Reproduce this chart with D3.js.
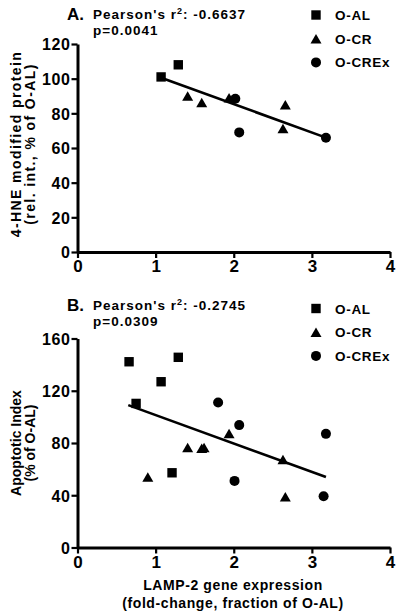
<!DOCTYPE html>
<html><head><meta charset="utf-8">
<script src="https://cdn.jsdelivr.net/npm/d3@7"></script>
<style>
html,body{margin:0;padding:0;background:#fff;}
svg{display:block;font-family:"Liberation Sans",Arial,Helvetica,sans-serif;font-weight:bold;}
</style></head>
<body>
<script>
// ---------- data ----------
const groups = ["O-AL", "O-CR", "O-CREx"];
const xTicks = [0, 1, 2, 3, 4];
const yTicksA = [0, 20, 40, 60, 80, 100, 120];
const yTicksB = [0, 40, 80, 120, 160];

// Panel A: 4-HNE modified protein vs LAMP-2
const aAL_x = [1.07, 1.29];
const aAL_y = [101, 108];
const aCR_x = [1.41, 1.59, 1.94, 2.63, 2.66];
const aCR_y = [90, 86.3, 89, 71.3, 85];
const aCREx_x = [2.02, 2.07, 3.18];
const aCREx_y = [88.4, 69, 65.9];
const aFit_x = [1.07, 3.18];
const aFit_y = [100.5, 66];

// Panel B: Apoptotic index vs LAMP-2
const bAL_x = [0.66, 1.29, 1.07, 0.75, 1.21];
const bAL_y = [142.2, 145.6, 126.9, 110.3, 57.2];
const bCR_x = [0.90, 1.41, 1.59, 1.62, 1.94, 2.63, 2.66];
const bCR_y = [54, 76.6, 75.9, 76.6, 87.3, 67.4, 38.8];
const bCREx_x = [1.80, 2.07, 2.01, 3.18, 3.15];
const bCREx_y = [111, 93.7, 51, 87, 39.3];
const bFit_x = [0.65, 3.18];
const bFit_y = [109, 54];

// ---------- drawing ----------
const W = 400, H = 616;
const svg = d3.select("body").append("svg").attr("width", W).attr("height", H);

function marker(g, shape, cx, cy) {
  if (shape === 0) {
    g.append("rect").attr("x", cx - 4.7).attr("y", cy - 4.7).attr("width", 9.4).attr("height", 9.4).attr("fill", "#000");
  } else if (shape === 1) {
    const h = 9.5, w = 11;
    g.append("path").attr("d", `M${cx},${cy - h/2}L${cx + w/2},${cy + h/2}L${cx - w/2},${cy + h/2}Z`).attr("fill", "#000");
  } else {
    g.append("circle").attr("cx", cx).attr("cy", cy).attr("r", 5).attr("fill", "#000");
  }
}

function panel(opt) {
  const g = svg.append("g");
  const x = d3.scaleLinear().domain([0, 4]).range([77.5, 390]);
  const y = d3.scaleLinear().domain([0, opt.ymax]).range([opt.y0, opt.y1]);

  // axes
  const ya = g.append("g").attr("transform", `translate(${x(0)},0)`)
    .call(d3.axisLeft(y).tickValues(opt.yticks).tickFormat(d3.format("d")).tickSize(6).tickSizeOuter(0).tickPadding(1));
  const xa = g.append("g").attr("transform", `translate(0,${y(0)})`)
    .call(d3.axisBottom(x).tickValues(xTicks).tickFormat(d3.format("d")).tickSize(6).tickSizeOuter(0).tickPadding(1.5));
  [ya, xa].forEach(a => {
    a.attr("font-size", null).attr("font-family", null);
    a.select(".domain").attr("stroke", "#000").attr("stroke-width", 3);
    a.selectAll(".tick line").attr("stroke", "#000").attr("stroke-width", 2.2);
    a.selectAll("text").attr("fill", "#000").attr("font-weight", "bold");
  });
  ya.selectAll("text").attr("font-size", 16).attr("letter-spacing", 0.6).attr("dy", "0.36em");
  xa.selectAll("text").attr("font-size", 17).attr("dy", "0.76em");

  // fit line
  const line = d3.line().x(d => x(d[0])).y(d => y(d[1]));
  g.append("path").datum(d3.zip(opt.fitx, opt.fity)).attr("d", line)
    .attr("fill", "none").attr("stroke", "#000").attr("stroke-width", 2.6);

  // points
  opt.series.forEach((s, i) => {
    d3.zip(s[0], s[1]).forEach(p => marker(g, i, x(p[0]), y(p[1])));
  });

  // titles
  g.append("text").attr("x", 67).attr("y", opt.ty + 1).attr("font-size", 17).text(opt.letter);
  const t = g.append("text").attr("x", 93).attr("y", opt.ty).attr("font-size", 13.5).attr("letter-spacing", 1);
  t.append("tspan").text("Pearson's r");
  t.append("tspan").attr("font-size", 9).attr("dy", -5).text("2");
  t.append("tspan").attr("dy", 5).text(": " + opt.r);
  g.append("text").attr("x", 93).attr("y", opt.ty + 15.5).attr("font-size", 13.5).attr("letter-spacing", 1).text("p=" + opt.p);

  // legend
  groups.forEach((name, i) => {
    const cy = opt.ly + i * 23.7;
    marker(g, i, 316, cy);
    g.append("text").attr("x", 335).attr("y", cy + 5).attr("font-size", 13.5).attr("letter-spacing", 0.7).text(name);
  });

  // y label
  const yl = g.append("g").attr("transform", `translate(0,${opt.ylc}) rotate(-90)`);
  yl.append("text").attr("x", 0).attr("y", 20.5).attr("text-anchor", "middle").attr("font-size", 14)
    .attr("letter-spacing", opt.yls).text(opt.ylab1);
  yl.append("text").attr("x", 0).attr("y", 34.5).attr("text-anchor", "middle").attr("font-size", 14)
    .attr("letter-spacing", opt.yls).text(opt.ylab2);
}

panel({
  ymax: 120, y0: 252, y1: 44, yticks: yTicksA,
  fitx: aFit_x, fity: aFit_y,
  series: [[aAL_x, aAL_y], [aCR_x, aCR_y], [aCREx_x, aCREx_y]],
  letter: "A.", r: "-0.6637", p: "0.0041", ty: 19, ly: 15,
  ylab1: "4-HNE modified protein", ylab2: "(rel. int., % of O-AL)", ylc: 144, yls: 1.4
});
panel({
  ymax: 160, y0: 547.5, y1: 338.5, yticks: yTicksB,
  fitx: bFit_x, fity: bFit_y,
  series: [[bAL_x, bAL_y], [bCR_x, bCR_y], [bCREx_x, bCREx_y]],
  letter: "B.", r: "-0.2745", p: "0.0309", ty: 310, ly: 308.5,
  ylab1: "Apoptotic Index", ylab2: "(% of O-AL)", ylc: 443, yls: 0
});

// x label
svg.append("text").attr("x", 233).attr("y", 590).attr("text-anchor", "middle").attr("font-size", 14)
  .attr("letter-spacing", 0.6).text("LAMP-2 gene expression");
svg.append("text").attr("x", 233).attr("y", 607.5).attr("text-anchor", "middle").attr("font-size", 14)
  .attr("letter-spacing", 0.6).text("(fold-change, fraction of O-AL)");
</script>
</body></html>
